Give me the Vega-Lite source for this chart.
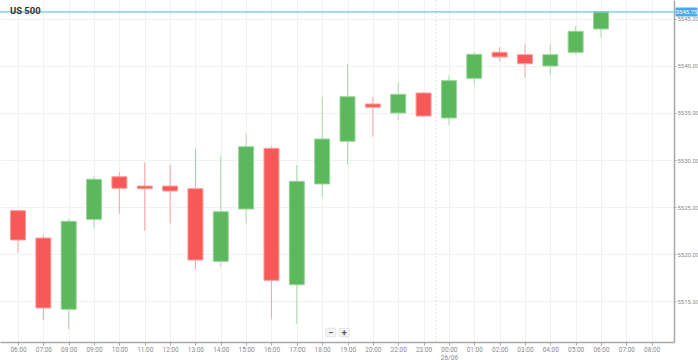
{
  "$schema": "https://vega.github.io/schema/vega-lite/v6.json",
  "width": 674,
  "height": 342,
  "autosize": {"type": "none"},
  "padding": {"left": 0, "top": 0, "right": 24, "bottom": 18},
  "background": "#ffffff",
  "config": {
    "view": {"stroke": null},
    "font": "Roboto",
    "scale": {"continuousPadding": 0},
    "axis": {"labelFont": "Roboto", "labelColor": "#8a8a8a", "labelFontSize": 6.5, "gridColor": "#f1f1f1", "gridWidth": 1, "domainColor": "#a8a8a8", "tickColor": "#a8a8a8"}
  },
  "datasets": {
    "candles": [
      {"t": "06:00", "i": 0, "open": 5524.61, "high": 5524.65, "low": 5520.11, "close": 5521.49},
      {"t": "07:00", "i": 1, "open": 5521.70, "high": 5522.02, "low": 5512.98, "close": 5514.26},
      {"t": "08:00", "i": 2, "open": 5514.12, "high": 5523.72, "low": 5512.02, "close": 5523.48},
      {"t": "09:00", "i": 3, "open": 5523.69, "high": 5528.30, "low": 5522.73, "close": 5527.95},
      {"t": "10:00", "i": 4, "open": 5528.22, "high": 5528.72, "low": 5524.26, "close": 5526.99},
      {"t": "11:00", "i": 5, "open": 5527.23, "high": 5529.71, "low": 5522.48, "close": 5526.95},
      {"t": "12:00", "i": 6, "open": 5527.23, "high": 5529.47, "low": 5523.27, "close": 5526.70},
      {"t": "13:00", "i": 7, "open": 5526.95, "high": 5531.24, "low": 5518.40, "close": 5519.36},
      {"t": "14:00", "i": 8, "open": 5519.22, "high": 5530.46, "low": 5518.65, "close": 5524.50},
      {"t": "15:00", "i": 9, "open": 5524.79, "high": 5532.77, "low": 5523.27, "close": 5531.41},
      {"t": "16:00", "i": 10, "open": 5531.24, "high": 5531.49, "low": 5513.05, "close": 5517.20},
      {"t": "17:00", "i": 11, "open": 5516.73, "high": 5529.47, "low": 5512.52, "close": 5527.73},
      {"t": "18:00", "i": 12, "open": 5527.45, "high": 5536.73, "low": 5526.03, "close": 5532.23},
      {"t": "19:00", "i": 13, "open": 5531.99, "high": 5540.21, "low": 5529.54, "close": 5536.73},
      {"t": "20:00", "i": 14, "open": 5535.96, "high": 5536.73, "low": 5532.48, "close": 5535.61},
      {"t": "22:00", "i": 15, "open": 5535.00, "high": 5538.27, "low": 5534.26, "close": 5536.99},
      {"t": "23:00", "i": 16, "open": 5537.13, "high": 5537.20, "low": 5534.60, "close": 5534.68},
      {"t": "00:00", "i": 17, "open": 5534.47, "high": 5539.01, "low": 5533.72, "close": 5538.44},
      {"t": "01:00", "i": 18, "open": 5538.69, "high": 5541.52, "low": 5538.05, "close": 5541.24},
      {"t": "02:00", "i": 19, "open": 5541.46, "high": 5542.00, "low": 5540.53, "close": 5540.96},
      {"t": "03:00", "i": 20, "open": 5541.20, "high": 5542.31, "low": 5538.76, "close": 5540.24},
      {"t": "04:00", "i": 21, "open": 5540.00, "high": 5542.31, "low": 5539.04, "close": 5541.20},
      {"t": "05:00", "i": 22, "open": 5541.46, "high": 5544.26, "low": 5541.24, "close": 5543.69},
      {"t": "06:00", "i": 23, "open": 5543.94, "high": 5545.75, "low": 5543.01, "close": 5545.75}
    ],
    "buttons": [
      {"b": "−", "x0": 12.14, "x1": 12.54},
      {"b": "+", "x0": 12.67, "x1": 13.06}
    ]
  },
  "layer": [
    {
      "data": {"name": "candles"},
      "mark": {"type": "rule", "strokeWidth": 1},
      "encoding": {
        "x": {
          "field": "i", "type": "quantitative",
          "scale": {"domain": [-0.71, 25.88], "nice": false, "zero": false, "padding": 0},
          "axis": {
            "title": null,
            "values": [0,1,2,3,4,5,6,7,8,9,10,11,12,13,14,15,16,17,18,19,20,21,22,23,24,25],
            "tickCount": 30,
            "labelExpr": "datum.value == 17 ? ['00:00', '26/06'] : ['06:00','07:00','08:00','09:00','10:00','11:00','12:00','13:00','14:00','15:00','16:00','17:00','18:00','19:00','20:00','22:00','23:00','00:00','01:00','02:00','03:00','04:00','05:00','06:00','07:00','08:00'][datum.value]",
            "grid": true,
            "tickSize": 3,
            "domainWidth": 1.5,
            "labelPadding": 1,
            "labelLineHeight": 8,
            "labelFlush": false,
            "labelOverlap": false,
            "labelBound": false
          }
        },
        "y": {
          "field": "low", "type": "quantitative",
          "scale": {"domain": [5510.64, 5547.02], "nice": false, "zero": false},
          "axis": {
            "title": null,
            "orient": "right",
            "values": [5515, 5520, 5525, 5530, 5535, 5540, 5545],
            "format": ".2f",
            "grid": true,
            "tickSize": 2,
            "labelPadding": 1,
            "domainWidth": 1.5,
            "labelFontSize": 6
          }
        },
        "y2": {"field": "high"},
        "color": {
          "condition": {"test": "datum.open > datum.close", "value": "#f9a5a5"},
          "value": "#abdaab"
        }
      }
    },
    {
      "data": {"name": "candles"},
      "mark": {"type": "bar", "size": 15, "strokeWidth": 1},
      "encoding": {
        "x": {"field": "i", "type": "quantitative", "scale": {"domain": [-0.71, 25.88], "nice": false, "zero": false, "padding": 0}},
        "y": {"field": "open", "type": "quantitative", "scale": {"domain": [5510.64, 5547.02], "nice": false, "zero": false}},
        "y2": {"field": "close"},
        "fill": {
          "condition": {"test": "datum.open > datum.close", "value": "#f75959"},
          "value": "#5cb85c"
        },
        "stroke": {
          "condition": {"test": "datum.open > datum.close", "value": "#fa9c9c"},
          "value": "#9ad39a"
        }
      }
    },
    {
      "data": {"values": [{"d": 16.5}]},
      "mark": {"type": "rule", "color": "#e2e2e2", "strokeDash": [2, 2], "strokeWidth": 1},
      "encoding": {"x": {"field": "d", "type": "quantitative", "scale": {"domain": [-0.71, 25.88], "nice": false, "zero": false, "padding": 0}}}
    },
    {
      "data": {"values": [{"p": 5545.75}]},
      "mark": {"type": "rule", "color": "#6fc3f2", "strokeWidth": 1.2},
      "encoding": {"y": {"field": "p", "type": "quantitative", "scale": {"domain": [5510.64, 5547.02], "nice": false, "zero": false}}}
    },
    {
      "data": {"values": [{"p": 5545.75, "label": "5545.75", "xl": 26.375}]},
      "mark": {"type": "rect", "color": "#49aaeb", "clip": false, "cornerRadius": 1, "width": 22, "height": 9},
      "encoding": {
        "x": {"field": "xl", "type": "quantitative", "scale": {"domain": [-0.71, 25.88], "nice": false, "zero": false, "padding": 0}},
        "y": {"field": "p", "type": "quantitative", "scale": {"domain": [5510.64, 5547.02], "nice": false, "zero": false}}
      }
    },
    {
      "data": {"values": [{"p": 5545.75, "label": "5545.75", "xl": 26.375}]},
      "mark": {"type": "text", "color": "#ffffff", "fontSize": 6, "align": "center", "baseline": "middle", "clip": false},
      "encoding": {
        "x": {"field": "xl", "type": "quantitative", "scale": {"domain": [-0.71, 25.88], "nice": false, "zero": false, "padding": 0}},
        "y": {"field": "p", "type": "quantitative", "scale": {"domain": [5510.64, 5547.02], "nice": false, "zero": false}},
        "text": {"field": "label"}
      }
    },
    {
      "data": {"values": [{"title": "US 500", "xt": -0.32, "yt": 5545.53}]},
      "mark": {"type": "text", "color": "#333333", "fontSize": 9.5, "fontWeight": "bold", "align": "left", "baseline": "alphabetic"},
      "encoding": {
        "x": {"field": "xt", "type": "quantitative", "scale": {"domain": [-0.71, 25.88], "nice": false, "zero": false, "padding": 0}},
        "y": {"field": "yt", "type": "quantitative", "scale": {"domain": [5510.64, 5547.02], "nice": false, "zero": false}},
        "text": {"field": "title"}
      }
    },
    {
      "data": {"name": "buttons"},
      "transform": [{"calculate": "5511.2", "as": "y0"}, {"calculate": "5512.1", "as": "y1"}],
      "mark": {"type": "rect", "fill": "#f4f4f4", "stroke": "#e4e4e4", "strokeWidth": 1, "cornerRadius": 1},
      "encoding": {
        "x": {"field": "x0", "type": "quantitative", "scale": {"domain": [-0.71, 25.88], "nice": false, "zero": false, "padding": 0}},
        "x2": {"field": "x1"},
        "y": {"field": "y0", "type": "quantitative", "scale": {"domain": [5510.64, 5547.02], "nice": false, "zero": false}},
        "y2": {"field": "y1"}
      }
    },
    {
      "data": {"name": "buttons"},
      "transform": [{"calculate": "(datum.x0 + datum.x1) / 2", "as": "xc"}, {"calculate": "5511.65", "as": "yc"}],
      "mark": {"type": "text", "color": "#555555", "fontSize": 9, "fontWeight": "bold", "align": "center", "baseline": "middle"},
      "encoding": {
        "x": {"field": "xc", "type": "quantitative", "scale": {"domain": [-0.71, 25.88], "nice": false, "zero": false, "padding": 0}},
        "y": {"field": "yc", "type": "quantitative", "scale": {"domain": [5510.64, 5547.02], "nice": false, "zero": false}},
        "text": {"field": "b"}
      }
    }
  ]
}
